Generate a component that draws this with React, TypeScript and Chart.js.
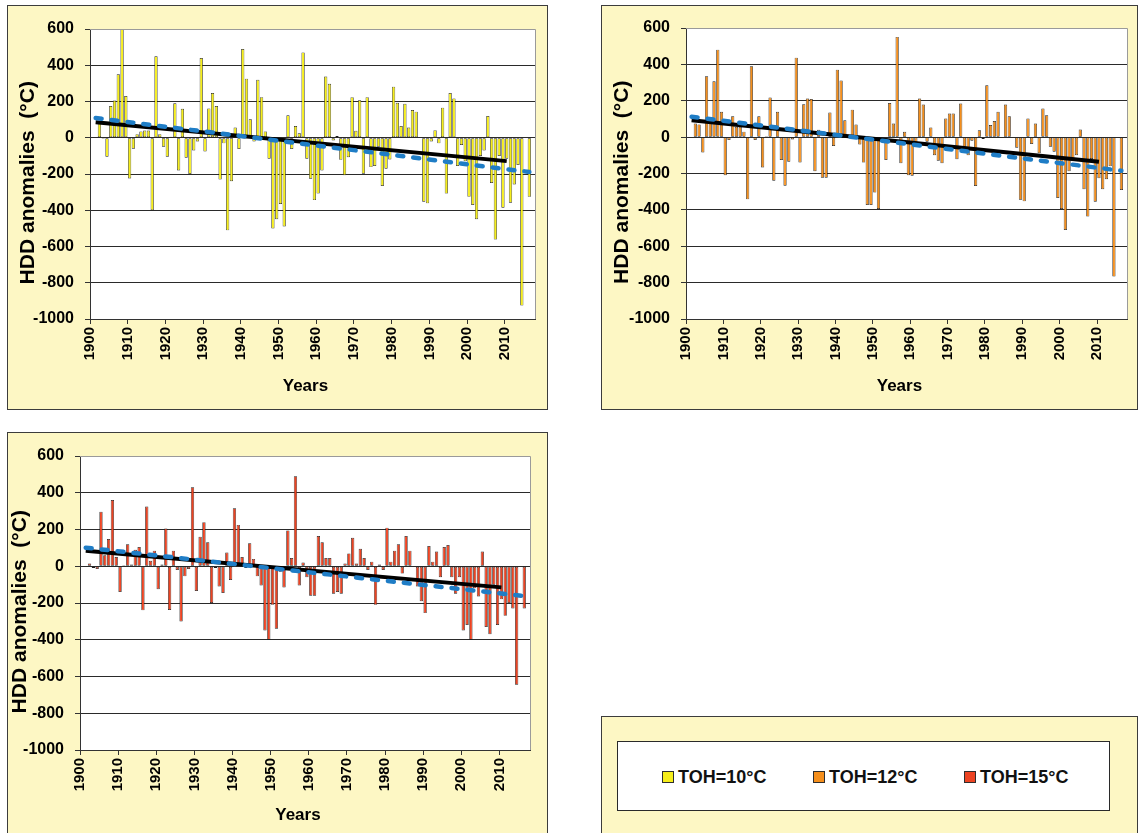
import { useEffect, useRef } from "react";
import { Chart, registerables } from "chart.js";

Chart.register(...registerables);

const FONT = '"Liberation Sans", Arial, Helvetica, sans-serif';
const PANEL_BG = "#fdf7c4";

// Years of the record
const YEARS = [
  1901, 1902, 1903, 1904, 1905, 1906, 1907, 1908, 1909, 1910,
  1911, 1912, 1913, 1914, 1915, 1916, 1917, 1918, 1919, 1920,
  1921, 1922, 1923, 1924, 1925, 1926, 1927, 1928, 1929, 1930,
  1931, 1932, 1933, 1934, 1935, 1936, 1937, 1938, 1939, 1940,
  1941, 1942, 1943, 1944, 1945, 1946, 1947, 1948, 1949, 1950,
  1951, 1952, 1953, 1954, 1955, 1956, 1957, 1958, 1959, 1960,
  1961, 1962, 1963, 1964, 1965, 1966, 1967, 1968, 1969, 1970,
  1971, 1972, 1973, 1974, 1975, 1976, 1977, 1978, 1979, 1980,
  1981, 1982, 1983, 1984, 1985, 1986, 1987, 1988, 1989, 1990,
  1991, 1992, 1993, 1994, 1995, 1996, 1997, 1998, 1999, 2000,
  2001, 2002, 2003, 2004, 2005, 2006, 2007, 2008, 2009, 2010,
  2011, 2012, 2013, 2014, 2015, 2016,
];

// HDD anomalies (°C), base temperature TOH = 10 °C
const HDD_TOH10 = [
  null, 80, -5, -105, 175, 205, 350, 600, 230, -225,
  -60, 20, 35, 40, 40, -400, 450, 20, -50, -105,
  5, 190, -180, 160, -110, -200, -70, -20, 440, -76,
  162, 247, 175, -231, -31, -511, -240, 56, -62, 490,
  326, 102, -20, 320, 224, 35, -116, -500, -450, -365,
  -490, 124, -62, 65, 25, 471, -116, -226, -344, -308,
  -180, 338, 298, -15, 10, -122, -207, -107, 224, 38,
  207, -198, 224, -162, -156, -50, -266, -171, -120, 282,
  193, 65, 187, 56, 153, 144, 0, -353, -362, -20,
  42, -31, 166, -308, 247, 217, -156, -40, -130, -326,
  -371, -450, -100, -70, 120, -249, -562, -100, -386, -116,
  -358, -258, -150, -926, null, -326,
];

// HDD anomalies (°C), base temperature TOH = 12 °C
const HDD_TOH12 = [
  null, 75, 70, -84, 335, 80, 307, 481, 139, -209,
  -16, 115, 57, 57, 30, -342, 390, -16, 115, -167,
  5, 218, -240, 139, -126, -267, -135, -13, 437, -139,
  181, 212, 209, -187, 40, -223, -223, 135, -49, 371,
  311, 93, 0, 151, 69, -40, -140, -373, -373, -305,
  -395, -20, -126, 187, 75, 551, -144, 29, -209, -212,
  -30, 212, 179, -25, 53, -99, -130, -144, 102, 130,
  130, -122, 185, -53, -99, -20, -269, 38, -10, 285,
  66, 88, 139, -5, 179, 115, 0, -58, -344, -353,
  102, -38, 75, -89, 157, 120, -53, -80, -335, -395,
  -510, -187, -120, -100, 42, -287, -437, -120, -355, -226,
  -287, -232, -160, -767, null, -291,
];

// HDD anomalies (°C), base temperature TOH = 15 °C
const HDD_TOH15 = [
  null, 15, -10, -15, 297, 60, 148, 360, 50, -140,
  5, 120, 10, 90, 105, -240, 325, 30, 85, -125,
  10, 205, -238, 85, -20, -300, -55, -15, 430, -135,
  160, 240, 130, -200, -10, -110, -145, 75, -75, 315,
  225, 50, -10, 125, 40, -55, -105, -350, -400, -210,
  -340, -30, -115, 195, 45, 490, -105, 20, -60, -160,
  -160, 165, 130, 45, 45, -150, -140, -150, 15, 70,
  155, 15, 95, 45, -20, 25, -210, 10, -20, 210,
  25, 85, 120, -40, 165, 85, 0, -110, -190, -255,
  110, 25, 80, -60, 105, 115, -60, -150, -60, -350,
  -320, -400, -120, -165, 80, -330, -370, -100, -320, -180,
  -270, -200, -230, -645, null, -230,
];

// Linear trends: end-point values for 1901–2010 (solid) and 1901–2016 (dashed)
const TREND_SHORT_YEARS = [1901, 2010];
const TREND_LONG_YEARS = [1901, 2016];
const TREND_SHORT_TOH10 = [85, -129];
const TREND_LONG_TOH10 = [109, -189];
const TREND_SHORT_TOH12 = [93, -135];
const TREND_LONG_TOH12 = [112, -185];
const TREND_SHORT_TOH15 = [84, -115];
const TREND_LONG_TOH15 = [101, -162];

// Axes
const X_TICKS = [1900, 1910, 1920, 1930, 1940, 1950, 1960, 1970, 1980, 1990, 2000, 2010];
const X_MIN = 1900;
const X_MAX = 2018;
const Y_TICKS = [600, 400, 200, 0, -200, -400, -600, -800, -1000];
const Y_MIN = -1000;
const Y_MAX = 600;

const X_TITLE = "Years   ";
const Y_TITLE = "HDD anomalies  (°C)   ";
const LEGEND_LABELS = ["TOH=10°C", "TOH=12°C", "TOH=15°C"];
const BAR_COLORS = ["#f6ee1a", "#f58f1c", "#ec4322"];

type Rect = { x: number; y: number; w: number; h: number };
type Plot = { left: number; right: number; top: number; bottom: number };

interface PanelProps {
  box: Rect;
  plot: Plot;
  values: (number | null)[];
  barColor: string;
  trendShort: number[];
  trendLong: number[];
  yTitleX: number;
  xTitleY: number;
}

const framePlugin = {
  id: "panelFrame",
  beforeDraw(chart: any) {
    const { ctx, width, height, chartArea: a } = chart;
    ctx.save();
    ctx.fillStyle = PANEL_BG;
    ctx.fillRect(0, 0, width, height);
    ctx.strokeStyle = "#3c3c3c";
    ctx.lineWidth = 1;
    ctx.strokeRect(0.5, 0.5, width - 1, height - 1);
    ctx.fillStyle = "#ffffff";
    ctx.fillRect(a.left, a.top, a.right - a.left, a.bottom - a.top);
    ctx.restore();
  },
  afterDraw(chart: any) {
    const { ctx, chartArea: a } = chart;
    ctx.save();
    ctx.strokeStyle = "#9a9a9a";
    ctx.lineWidth = 1;
    ctx.beginPath();
    ctx.moveTo(a.left, Math.round(a.top) + 0.5);
    ctx.lineTo(Math.round(a.right) + 0.5, Math.round(a.top) + 0.5);
    ctx.lineTo(Math.round(a.right) + 0.5, a.bottom);
    ctx.stroke();
    ctx.restore();
  },
};

function HddPanel({ box, plot, values, barColor, trendShort, trendLong, yTitleX, xTitleY }: PanelProps) {
  const ref = useRef<HTMLCanvasElement | null>(null);

  useEffect(() => {
    if (!ref.current) return;
    const cl = plot.left - box.x;
    const cr = plot.right - box.x;
    const ct = plot.top - box.y;
    const cb = plot.bottom - box.y;
    const xTitleSize = 17;
    const yTitleSize = 21;

    const chart = new Chart(ref.current, {
      type: "bar",
      data: {
        datasets: [
          {
            type: "line",
            data: TREND_LONG_YEARS.map((yr, i) => ({ x: yr + 0.5, y: trendLong[i] })),
            borderColor: "#1f7dc6",
            borderWidth: 4.5,
            borderDash: [6, 10],
            borderCapStyle: "round",
            pointRadius: 0,
            order: 1,
          },
          {
            type: "line",
            data: TREND_SHORT_YEARS.map((yr, i) => ({ x: yr + 0.5, y: trendShort[i] })),
            borderColor: "#000000",
            borderWidth: 4,
            pointRadius: 0,
            order: 2,
          },
          {
            type: "bar",
            data: YEARS.map((yr, i) => ({ x: yr + 0.5, y: values[i] })),
            backgroundColor: barColor,
            borderColor: "#1e1e1e",
            borderWidth: 0.7,
            borderSkipped: false,
            barPercentage: 0.86,
            categoryPercentage: 1,
            order: 3,
          },
        ],
      } as any,
      options: {
        responsive: false,
        animation: false,
        events: [],
        layout: { padding: { left: 0, top: ct, right: box.w - cr, bottom: 0 } },
        plugins: { legend: { display: false }, tooltip: { enabled: false } },
        scales: {
          x: {
            type: "linear",
            min: X_MIN,
            max: X_MAX,
            offset: false,
            afterBuildTicks: (s: any) => {
              s.ticks = X_TICKS.map((v) => ({ value: v }));
            },
            afterFit: (s: any) => {
              s.height = box.h - cb;
            },
            ticks: {
              minRotation: 90,
              maxRotation: 90,
              autoSkip: false,
              padding: 3,
              color: "#000",
              font: { family: FONT, size: 15, weight: "bold" },
              callback: (v: any) => String(v),
            },
            grid: { offset: false, drawOnChartArea: false, drawTicks: true, tickLength: 5, tickColor: "#333", color: "#333" },
            border: { display: true, color: "#333", width: 1 },
            title: {
              display: true,
              text: X_TITLE,
              color: "#000",
              font: { family: FONT, size: xTitleSize, weight: "bold" },
              padding: { top: 0, bottom: box.h - xTitleY - (xTitleSize * 1.2) / 2 },
            },
          },
          y: {
            type: "linear",
            min: Y_MIN,
            max: Y_MAX,
            afterBuildTicks: (s: any) => {
              s.ticks = Y_TICKS.map((v) => ({ value: v }));
            },
            afterFit: (s: any) => {
              s.width = cl;
            },
            ticks: {
              padding: 11,
              color: "#000",
              font: { family: FONT, size: 16, weight: "bold" },
              callback: (v: any) => String(v),
            },
            grid: {
              drawTicks: true,
              tickLength: 5,
              tickColor: "#333",
              color: (c: any) => (c.tick && c.tick.value === Y_MAX ? "#9a9a9a" : "#2a2a2a"),
              lineWidth: 1,
            },
            border: { display: true, color: "#333", width: 1 },
            title: {
              display: true,
              text: Y_TITLE,
              color: "#000",
              font: { family: FONT, size: yTitleSize, weight: "bold" },
              padding: { top: yTitleX - (yTitleSize * 1.2) / 2, bottom: 0 },
            },
          },
        },
      } as any,
      plugins: [framePlugin],
    });
    return () => chart.destroy();
  }, [box, plot, values, barColor, trendShort, trendLong, yTitleX, xTitleY]);

  return (
    <canvas
      ref={ref}
      width={box.w}
      height={box.h}
      style={{ position: "absolute", left: box.x, top: box.y, width: box.w, height: box.h }}
    />
  );
}

const PANELS: PanelProps[] = [
  {
    box: { x: 7, y: 5, w: 541, h: 405 },
    plot: { left: 90, right: 535, top: 29, bottom: 319 },
    values: HDD_TOH10,
    barColor: BAR_COLORS[0],
    trendShort: TREND_SHORT_TOH10,
    trendLong: TREND_LONG_TOH10,
    yTitleX: 21,
    xTitleY: 381,
  },
  {
    box: { x: 601, y: 5, w: 537, h: 405 },
    plot: { left: 686, right: 1127, top: 28, bottom: 319 },
    values: HDD_TOH12,
    barColor: BAR_COLORS[1],
    trendShort: TREND_SHORT_TOH12,
    trendLong: TREND_LONG_TOH12,
    yTitleX: 21,
    xTitleY: 381,
  },
  {
    box: { x: 7, y: 432, w: 541, h: 403 },
    plot: { left: 80, right: 530, top: 456, bottom: 750 },
    values: HDD_TOH15,
    barColor: BAR_COLORS[2],
    trendShort: TREND_SHORT_TOH15,
    trendLong: TREND_LONG_TOH15,
    yTitleX: 13,
    xTitleY: 383,
  },
];

const LEGEND_MARKER_X = [661, 812, 963];

function LegendPanel() {
  return (
    <div
      style={{
        position: "absolute",
        left: 601,
        top: 716,
        width: 537,
        height: 120,
        boxSizing: "border-box",
        background: PANEL_BG,
        border: "1px solid #3c3c3c",
      }}
    >
      <div
        style={{
          position: "absolute",
          left: 15,
          top: 24,
          width: 493,
          height: 70,
          boxSizing: "border-box",
          background: "#fff",
          border: "1px solid #2a2a2a",
        }}
      >
        {LEGEND_LABELS.map((label, i) => (
          <div
            key={label}
            style={{
              position: "absolute",
              left: LEGEND_MARKER_X[i] - 617,
              top: 25,
              display: "flex",
              alignItems: "center",
              whiteSpace: "nowrap",
            }}
          >
            <span
              style={{
                display: "inline-block",
                width: 10,
                height: 10,
                background: BAR_COLORS[i],
                border: "1px solid #2e2e2e",
                marginRight: 4,
              }}
            />
            <span style={{ fontFamily: FONT, fontWeight: "bold", fontSize: 18, color: "#111", lineHeight: "20px" }}>
              {label}
            </span>
          </div>
        ))}
      </div>
    </div>
  );
}

export default function App() {
  return (
    <div
      style={{
        position: "absolute",
        left: 0,
        top: 0,
        width: 1140,
        height: 833,
        overflow: "hidden",
        background: "#ffffff",
      }}
    >
      {PANELS.map((p, i) => (
        <HddPanel key={i} {...p} />
      ))}
      <LegendPanel />
    </div>
  );
}
